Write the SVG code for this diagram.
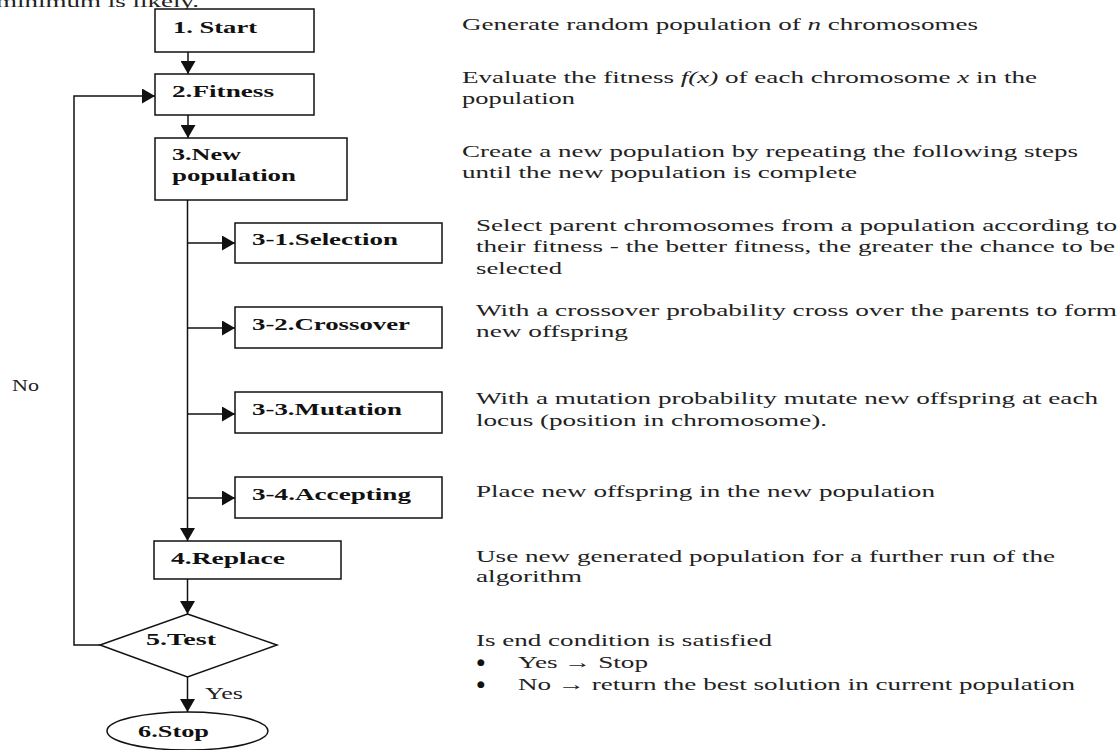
<svg xmlns="http://www.w3.org/2000/svg" width="1120" height="750" viewBox="0 0 1120 750">
<style>
.box{fill:#fff;stroke:#111;stroke-width:1.5}
.lbl{font-family:"Liberation Serif",serif;font-weight:bold;font-size:16px;fill:#111}
.d{font-family:"Liberation Serif",serif;font-size:17px;fill:#222}
.b{font-family:"DejaVu Sans",sans-serif;font-size:9px;fill:#111}
.c{fill:none;stroke:#111;stroke-width:1.5}
</style>
<defs>
<marker id="ah" viewBox="0 0 13 15" refX="13" refY="7.5" markerWidth="13" markerHeight="15" markerUnits="userSpaceOnUse" orient="auto">
<path d="M0,0 L13,7.5 L0,15 Z" fill="#111"/>
</marker>
</defs>
<rect width="1120" height="750" fill="#fff"/>
<text class="d" x="-4" y="7" font-size="26" textLength="203" lengthAdjust="spacingAndGlyphs">minimum is likely.</text>

<g id="connectors">
<line class="c" x1="188" y1="52" x2="188" y2="74" marker-end="url(#ah)"/>
<line class="c" x1="188" y1="115" x2="188" y2="138" marker-end="url(#ah)"/>
<line class="c" x1="187.5" y1="200" x2="187.5" y2="541" marker-end="url(#ah)"/>
<line class="c" x1="187.5" y1="243" x2="235" y2="243" marker-end="url(#ah)"/>
<line class="c" x1="187.5" y1="328" x2="235" y2="328" marker-end="url(#ah)"/>
<line class="c" x1="187.5" y1="414" x2="235" y2="414" marker-end="url(#ah)"/>
<line class="c" x1="187.5" y1="498" x2="235" y2="498" marker-end="url(#ah)"/>
<line class="c" x1="187.5" y1="579" x2="187.5" y2="614" marker-end="url(#ah)"/>
<line class="c" x1="187.5" y1="677" x2="187.5" y2="712" marker-end="url(#ah)"/>
<polyline class="c" points="100,645 74,645 74,96 155,96" marker-end="url(#ah)"/>
<text class="d" x="12" y="391" textLength="27" lengthAdjust="spacingAndGlyphs">No</text>
<text class="d" x="205" y="699" textLength="38" lengthAdjust="spacingAndGlyphs">Yes</text>
</g>

<g id="node-start">
<rect class="box" x="155" y="9" width="159" height="43"/>
<text class="lbl" x="173" y="33" textLength="84" lengthAdjust="spacingAndGlyphs">1. Start</text>
<text class="d" x="462" y="30" textLength="516" lengthAdjust="spacingAndGlyphs">Generate random population of <tspan font-style="italic">n</tspan> chromosomes</text>
</g>

<g id="node-fitness">
<rect class="box" x="155" y="74" width="159" height="41"/>
<text class="lbl" x="172" y="97" textLength="102" lengthAdjust="spacingAndGlyphs">2.Fitness</text>
<text class="d" x="462" y="83" textLength="575" lengthAdjust="spacingAndGlyphs">Evaluate the fitness <tspan font-style="italic">f(x)</tspan> of each chromosome <tspan font-style="italic">x</tspan> in the</text>
<text class="d" x="462" y="104" textLength="113" lengthAdjust="spacingAndGlyphs">population</text>
</g>

<g id="node-newpop">
<rect class="box" x="155" y="138" width="192" height="62"/>
<text class="lbl" x="172" y="160" textLength="69" lengthAdjust="spacingAndGlyphs">3.New</text>
<text class="lbl" x="172" y="181" textLength="124" lengthAdjust="spacingAndGlyphs">population</text>
<text class="d" x="462" y="157" textLength="616" lengthAdjust="spacingAndGlyphs">Create a new population by repeating the following steps</text>
<text class="d" x="462" y="178" textLength="395" lengthAdjust="spacingAndGlyphs">until the new population is complete</text>
</g>

<g id="node-selection">
<rect class="box" x="235" y="223" width="207" height="40"/>
<text class="lbl" x="252" y="245" textLength="146" lengthAdjust="spacingAndGlyphs">3-1.Selection</text>
<text class="d" x="476" y="231" textLength="641" lengthAdjust="spacingAndGlyphs">Select parent chromosomes from a population according to</text>
<text class="d" x="476" y="252" textLength="639" lengthAdjust="spacingAndGlyphs">their fitness - the better fitness, the greater the chance to be</text>
<text class="d" x="476" y="274" textLength="86" lengthAdjust="spacingAndGlyphs">selected</text>
</g>

<g id="node-crossover">
<rect class="box" x="235" y="307" width="207" height="41"/>
<text class="lbl" x="252" y="330" textLength="158" lengthAdjust="spacingAndGlyphs">3-2.Crossover</text>
<text class="d" x="476" y="316" textLength="641" lengthAdjust="spacingAndGlyphs">With a crossover probability cross over the parents to form</text>
<text class="d" x="476" y="337" textLength="152" lengthAdjust="spacingAndGlyphs">new offspring</text>
</g>

<g id="node-mutation">
<rect class="box" x="235" y="392" width="207" height="41"/>
<text class="lbl" x="252" y="415" textLength="150" lengthAdjust="spacingAndGlyphs">3-3.Mutation</text>
<text class="d" x="476" y="404" textLength="622" lengthAdjust="spacingAndGlyphs">With a mutation probability mutate new offspring at each</text>
<text class="d" x="476" y="426" textLength="351" lengthAdjust="spacingAndGlyphs">locus (position in chromosome).</text>
</g>

<g id="node-accepting">
<rect class="box" x="235" y="477" width="207" height="41"/>
<text class="lbl" x="252" y="500" textLength="159" lengthAdjust="spacingAndGlyphs">3-4.Accepting</text>
<text class="d" x="476" y="497" textLength="459" lengthAdjust="spacingAndGlyphs">Place new offspring in the new population</text>
</g>

<g id="node-replace">
<rect class="box" x="154" y="541" width="187" height="38"/>
<text class="lbl" x="171" y="564" textLength="114" lengthAdjust="spacingAndGlyphs">4.Replace</text>
<text class="d" x="476" y="562" textLength="579" lengthAdjust="spacingAndGlyphs">Use new generated population for a further run of the</text>
<text class="d" x="476" y="582" textLength="106" lengthAdjust="spacingAndGlyphs">algorithm</text>
</g>

<g id="node-test">
<polygon class="box" points="187.5,614 277,645 187.5,677 100,645"/>
<text class="lbl" x="146" y="645" textLength="70" lengthAdjust="spacingAndGlyphs">5.Test</text>
<text class="d" x="476" y="646" textLength="296" lengthAdjust="spacingAndGlyphs">Is end condition is satisfied</text>
<text class="b" x="477" y="665">●</text>
<text class="d" x="518" y="668" textLength="130" lengthAdjust="spacingAndGlyphs">Yes → Stop</text>
<text class="b" x="477" y="687">●</text>
<text class="d" x="518" y="690" textLength="557" lengthAdjust="spacingAndGlyphs">No → return the best solution in current population</text>
</g>

<g id="node-stop">
<ellipse class="box" cx="187.5" cy="731" rx="80.5" ry="19"/>
<text class="lbl" x="138" y="737" textLength="71" lengthAdjust="spacingAndGlyphs">6.Stop</text>
</g>
</svg>
